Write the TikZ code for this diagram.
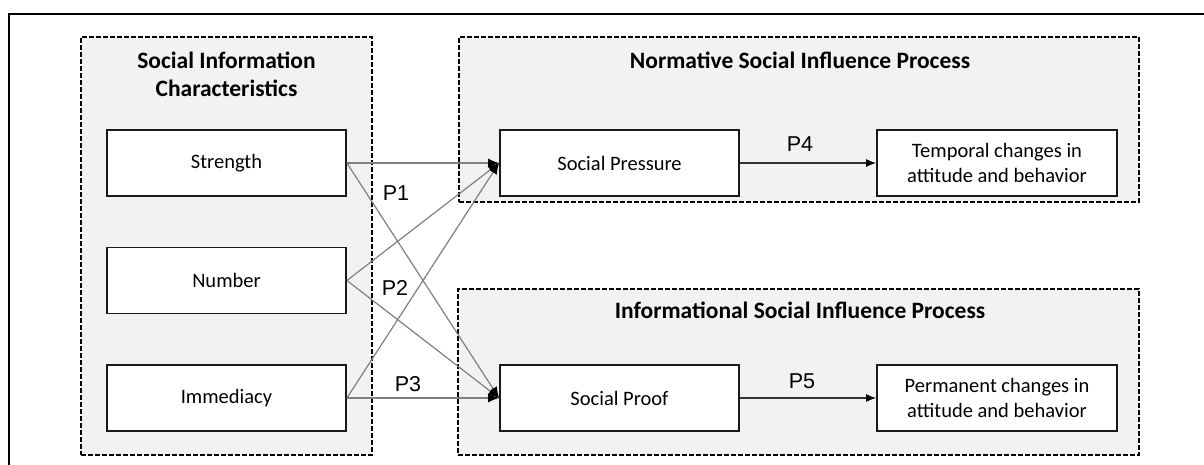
\documentclass[tikz,border=0pt]{standalone}
\usepackage{fontspec}
\setmainfont{Carlito}
\newfontfamily\arialf{Liberation Sans}
\usetikzlibrary{arrows.meta}
\definecolor{grpfill}{HTML}{F2F2F2}
\definecolor{conn}{HTML}{808080}
\tikzset{
  grp/.style={draw=black, line width=1.4pt, dash pattern=on 5pt off 2pt, fill=grpfill, inner sep=0pt},
  box/.style={draw=black!90, line width=1.8pt, fill=white, inner sep=0pt, minimum width=239pt, minimum height=66pt, align=center, font=\fontsize{20.5}{24.5}\selectfont},
  ttl/.style={inner sep=0pt, align=center, font=\fontsize{23.5}{28}\selectfont\bfseries},
  plab/.style={inner sep=0pt, font=\fontsize{21.5}{24}\selectfont\arialf},
  conn/.style={draw=conn, line width=1.2pt, -{Latex[length=11pt,width=9pt,color=black]}},
  flow/.style={draw=black!80, line width=1.2pt, -{Latex[length=10pt,width=8pt,color=black]}}
}
\begin{document}
\begin{tikzpicture}[x=1pt,y=-1pt]
\useasboundingbox (0,0) rectangle (1204,465);
\fill[white] (0,0) rectangle (1204,465);
\draw[line width=2.5pt] (9,470) -- (9,14) -- (1210,14);
% groups
\node[grp, minimum width=291pt, minimum height=418pt] (gl) at (226.5,246) {};
\node[grp, minimum width=680pt, minimum height=165pt] (gt) at (799,119.5) {};
\node[grp, minimum width=681pt, minimum height=166pt] (gb) at (798.5,372) {};
% titles
\node[ttl] (tl) at (226.5,74) {Social Information\\Characteristics};
\node[ttl] (tt) at (800,60) {Normative Social Influence Process};
\node[ttl] (tb) at (800,310) {Informational Social Influence Process};
% boxes
\node[box] (str) at (226.5,163) {Strength};
\node[box] (num) at (226.5,280.5) {Number};
\node[box] (imm) at (226.5,398) {Immediacy};
\node[box] (pre) at (619.5,163) {Social Pressure};
\node[box, minimum width=240pt] (tmp) at (997,163) {Temporal changes in\\attitude and behavior};
\node[box] (prf) at (619.5,398) {Social Proof};
\node[box, minimum width=240pt] (per) at (997,398) {Permanent changes in\\attitude and behavior};
% connectors
\draw[conn] (str.east) -- (pre.west);
\draw[conn] (str.east) -- (prf.west);
\draw[conn] (num.east) -- (pre.west);
\draw[conn] (num.east) -- (prf.west);
\draw[conn] (imm.east) -- (pre.west);
\draw[conn] (imm.east) -- (prf.west);
\draw[flow] (pre.east) -- (tmp.west);
\draw[flow] (prf.east) -- (per.west);
% labels
\node[plab] (p1) at (396,193) {P1};
\node[plab] (p2) at (395,288) {P2};
\node[plab] (p3) at (408,384) {P3};
\node[plab] (p4) at (800,144) {P4};
\node[plab] (p5) at (802,381) {P5};
\end{tikzpicture}
\end{document}
